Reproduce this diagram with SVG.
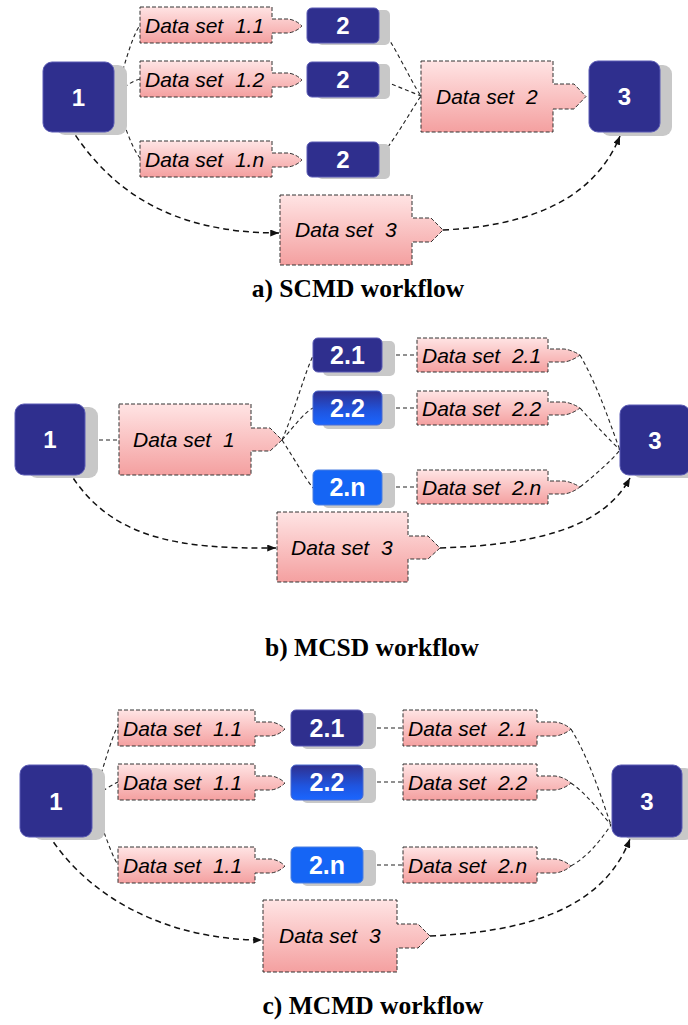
<svg xmlns="http://www.w3.org/2000/svg" width="688" height="1025" viewBox="0 0 688 1025">
<defs>
<linearGradient id="pink" x1="0" y1="0" x2="0" y2="1">
<stop offset="0" stop-color="#ffe4e4"/>
<stop offset="1" stop-color="#f4a0a0"/>
</linearGradient>
<linearGradient id="mix" x1="0" y1="0" x2="0" y2="1">
<stop offset="0" stop-color="#2f2f8e"/>
<stop offset="0.6" stop-color="#1f55e0"/>
<stop offset="1" stop-color="#1a66ff"/>
</linearGradient>
<marker id="arr" viewBox="0 0 10 8" refX="10" refY="4" markerWidth="9" markerHeight="7" markerUnits="userSpaceOnUse" orient="auto">
<path d="M0,0 L10,4 L0,8 Z" fill="#111"/>
</marker>
<style>
.sh{fill:#c8c8c8}
.nd{fill:#2f2f8e;stroke:#5a5ab4;stroke-width:1}
.nb{fill:#1565f5;stroke:#4a7fe0;stroke-width:1}
.nm{fill:url(#mix);stroke:#4a6ad0;stroke-width:1}
.nt{fill:#fff;font-family:"Liberation Sans",Arial,sans-serif;font-weight:bold;text-anchor:middle}
.ds{fill:url(#pink);stroke:#333;stroke-width:1;stroke-dasharray:4 2}
.dt{fill:#000;font-family:"Liberation Sans",Arial,sans-serif;font-style:italic;font-size:21px;white-space:pre}
.dtl{fill:#000;font-family:"Liberation Sans",Arial,sans-serif;font-style:italic;font-size:21px;white-space:pre}
.cn{fill:none;stroke:#222;stroke-width:1.1;stroke-dasharray:4 3}
.ca{fill:none;stroke:#111;stroke-width:1.5;stroke-dasharray:6 4}
.lb{fill:#000;font-family:"Liberation Serif","Times New Roman",serif;font-weight:bold;font-size:25.5px;text-anchor:middle}
</style>
</defs>

<!-- connectors -->
<g id="connectors">
<!-- panel a -->
<path class="cn" d="M114,97 C124,70 130,40 140,25"/>
<path class="cn" d="M114,97 C122,88 130,82 140,79"/>
<path class="cn" d="M114,97 C124,122 130,145 140,158"/>
<path class="cn" d="M379,25 C395,45 410,80 421,96"/>
<path class="cn" d="M379,79 L421,96"/>
<path class="cn" d="M379,158 C395,140 410,112 421,96"/>
<path class="ca" d="M70,127 C110,190 170,233 279,233" marker-end="url(#arr)"/>
<path class="ca" d="M443,230 C520,226 592,205 620,136" marker-end="url(#arr)"/>
<!-- panel b -->
<path class="cn" d="M85,440 H119"/>
<path class="cn" d="M282,440 C295,410 305,372 313,356"/>
<path class="cn" d="M282,440 C295,425 305,412 313,408"/>
<path class="cn" d="M282,440 C295,460 305,478 313,488"/>
<path class="cn" d="M382,355 H417"/>
<path class="cn" d="M382,408 H417"/>
<path class="cn" d="M382,487 H417"/>
<path class="cn" d="M580,355 C600,390 612,430 620,450"/>
<path class="cn" d="M580,408 C595,425 610,440 620,450"/>
<path class="cn" d="M580,487 C595,475 610,462 620,450"/>
<path class="ca" d="M68,470 C110,540 180,549 276,548" marker-end="url(#arr)"/>
<path class="ca" d="M440,548 C530,545 602,530 630,478" marker-end="url(#arr)"/>
<!-- panel c -->
<path class="cn" d="M92,800 C102,775 110,740 118,726"/>
<path class="cn" d="M92,800 C100,792 110,786 118,782"/>
<path class="cn" d="M92,800 C102,825 110,852 118,865"/>
<path class="cn" d="M363,728 H403"/>
<path class="cn" d="M363,782 H403"/>
<path class="cn" d="M363,865 H403"/>
<path class="cn" d="M571,729 C590,760 602,800 611,825"/>
<path class="cn" d="M571,783 C588,795 600,812 611,825"/>
<path class="cn" d="M571,866 C590,855 602,838 611,825"/>
<path class="ca" d="M48,834 C90,900 170,940 262,940" marker-end="url(#arr)"/>
<path class="ca" d="M430,936 C520,932 602,912 630,839" marker-end="url(#arr)"/>
</g>

<!-- ===== Panel a ===== -->
<g id="a-n1">
<rect class="sh" x="56" y="65" width="71" height="70" rx="9"/>
<rect class="nd" x="43" y="62" width="71" height="70" rx="9"/>
<text class="nt" x="78.5" y="106" font-size="24">1</text>
</g>
<g id="a-d11">
<path class="ds" d="M140,7 H272 V19 H288 Q296,20 302,26 Q296,32 288,33 H272 V43 H140 Z"/>
<text class="dt" x="145" y="33">Data set  1.1</text>
</g>
<g id="a-d12">
<path class="ds" d="M140,61 H272 V73 H288 Q296,74 302,80 Q296,86 288,87 H272 V97 H140 Z"/>
<text class="dt" x="145" y="87">Data set  1.2</text>
</g>
<g id="a-d1n">
<path class="ds" d="M140,141 H272 V153 H288 Q296,154 302,160 Q296,166 288,167 H272 V177 H140 Z"/>
<text class="dt" x="145" y="167">Data set  1.n</text>
</g>
<g id="a-n2a">
<rect class="sh" x="317" y="10" width="73" height="35" rx="5"/>
<rect class="nd" x="307" y="8" width="72" height="35" rx="5"/>
<text class="nt" x="343" y="34" font-size="24">2</text>
</g>
<g id="a-n2b">
<rect class="sh" x="317" y="64" width="73" height="35" rx="5"/>
<rect class="nd" x="307" y="62" width="72" height="35" rx="5"/>
<text class="nt" x="343" y="88" font-size="24">2</text>
</g>
<g id="a-n2c">
<rect class="sh" x="317" y="144" width="73" height="35" rx="5"/>
<rect class="nd" x="307" y="142" width="72" height="35" rx="5"/>
<text class="nt" x="343" y="168" font-size="24">2</text>
</g>
<g id="a-d2">
<path class="ds" d="M421,61 H553 V84 H574 L586,96.5 L574,109 H553 V132 H421 Z"/>
<text class="dtl" x="436" y="104">Data set  2</text>
</g>
<g id="a-n3">
<rect class="sh" x="601" y="65" width="71" height="71" rx="9"/>
<rect class="nd" x="589" y="61" width="71" height="71" rx="9"/>
<text class="nt" x="624.5" y="105" font-size="24">3</text>
</g>
<g id="a-d3">
<path class="ds" d="M280,195 H412 V218 H431 L443,230 L431,242 H412 V265 H280 Z"/>
<text class="dtl" x="295" y="237">Data set  3</text>
</g>
<text id="a-label" class="lb" x="358" y="297">a) SCMD workflow</text>

<!-- ===== Panel b ===== -->
<g id="b-n1">
<rect class="sh" x="28" y="407" width="70" height="71" rx="9"/>
<rect class="nd" x="15" y="404" width="70" height="71" rx="9"/>
<text class="nt" x="50" y="448" font-size="24">1</text>
</g>
<g id="b-d1">
<path class="ds" d="M119,404 H251 V428 H270 L282,440 L270,451 H251 V475 H119 Z"/>
<text class="dtl" x="133" y="447">Data set  1</text>
</g>
<g id="b-n21">
<rect class="sh" x="323" y="341" width="72" height="35" rx="5"/>
<rect class="nd" x="313" y="338" width="69" height="34" rx="5"/>
<text class="nt" x="347.5" y="364" font-size="25">2.1</text>
</g>
<g id="b-n22">
<rect class="sh" x="323" y="394" width="72" height="35" rx="5"/>
<rect class="nm" x="313" y="391" width="69" height="34" rx="5"/>
<text class="nt" x="347.5" y="417" font-size="25">2.2</text>
</g>
<g id="b-n2n">
<rect class="sh" x="323" y="473" width="72" height="35" rx="5"/>
<rect class="nb" x="313" y="470" width="69" height="35" rx="5"/>
<text class="nt" x="347.5" y="496" font-size="25">2.n</text>
</g>
<g id="b-d21">
<path class="ds" d="M417,338 H548 V349 H564 Q572,350 580,355 Q572,361 564,362 H548 V372 H417 Z"/>
<text class="dt" x="422" y="363">Data set  2.1</text>
</g>
<g id="b-d22">
<path class="ds" d="M417,391 H548 V402 H564 Q572,403 580,408 Q572,414 564,415 H548 V425 H417 Z"/>
<text class="dt" x="422" y="416">Data set  2.2</text>
</g>
<g id="b-d2n">
<path class="ds" d="M417,470 H548 V481 H564 Q572,482 580,487 Q572,493 564,494 H548 V504 H417 Z"/>
<text class="dt" x="422" y="495">Data set  2.n</text>
</g>
<g id="b-n3">
<rect class="sh" x="632" y="408" width="70" height="70" rx="9"/>
<rect class="nd" x="620" y="405" width="70" height="70" rx="9"/>
<text class="nt" x="655" y="449" font-size="24">3</text>
</g>
<g id="b-d3">
<path class="ds" d="M277,512 H408 V536 H428 L440,548 L428,559 H408 V582 H277 Z"/>
<text class="dtl" x="291" y="555">Data set  3</text>
</g>
<text id="b-label" class="lb" x="372" y="656">b) MCSD workflow</text>

<!-- ===== Panel c ===== -->
<g id="c-n1">
<rect class="sh" x="33" y="768" width="72" height="72" rx="9"/>
<rect class="nd" x="20" y="765" width="72" height="72" rx="9"/>
<text class="nt" x="56" y="810" font-size="24">1</text>
</g>
<g id="c-d1a">
<path class="ds" d="M118,710 H255 V722 H271 Q279,723 285,729 Q279,735 271,736 H255 V746 H118 Z"/>
<text class="dt" x="123" y="736">Data set  1.1</text>
</g>
<g id="c-d1b">
<path class="ds" d="M118,764 H255 V776 H271 Q279,777 285,783 Q279,789 271,790 H255 V800 H118 Z"/>
<text class="dt" x="123" y="790">Data set  1.1</text>
</g>
<g id="c-d1c">
<path class="ds" d="M118,847 H255 V859 H271 Q279,860 285,866 Q279,872 271,873 H255 V883 H118 Z"/>
<text class="dt" x="123" y="873">Data set  1.1</text>
</g>
<g id="c-n21">
<rect class="sh" x="302" y="713" width="74" height="36" rx="5"/>
<rect class="nd" x="291" y="710" width="72" height="36" rx="5"/>
<text class="nt" x="327" y="737" font-size="25">2.1</text>
</g>
<g id="c-n22">
<rect class="sh" x="302" y="768" width="74" height="35" rx="5"/>
<rect class="nm" x="291" y="765" width="72" height="35" rx="5"/>
<text class="nt" x="327" y="791" font-size="25">2.2</text>
</g>
<g id="c-n2n">
<rect class="sh" x="302" y="850" width="74" height="36" rx="5"/>
<rect class="nb" x="291" y="847" width="72" height="36" rx="5"/>
<text class="nt" x="327" y="874" font-size="25">2.n</text>
</g>
<g id="c-d21">
<path class="ds" d="M403,710 H537 V722 H555 Q564,723 571,729 Q564,735 555,736 H537 V746 H403 Z"/>
<text class="dt" x="408" y="736">Data set  2.1</text>
</g>
<g id="c-d22">
<path class="ds" d="M403,764 H537 V776 H555 Q564,777 571,783 Q564,789 555,790 H537 V800 H403 Z"/>
<text class="dt" x="408" y="790">Data set  2.2</text>
</g>
<g id="c-d2n">
<path class="ds" d="M403,847 H537 V859 H555 Q564,860 571,866 Q564,872 555,873 H537 V883 H403 Z"/>
<text class="dt" x="408" y="873">Data set  2.n</text>
</g>
<g id="c-n3">
<rect class="sh" x="624" y="768" width="70" height="72" rx="9"/>
<rect class="nd" x="612" y="765" width="70" height="72" rx="9"/>
<text class="nt" x="647" y="810" font-size="24">3</text>
</g>
<g id="c-d3">
<path class="ds" d="M263,900 H397 V924 H418 L430,936 L418,948 H397 V972 H263 Z"/>
<text class="dtl" x="279" y="943">Data set  3</text>
</g>
<text id="c-label" class="lb" x="373" y="1014">c) MCMD workflow</text>
</svg>
